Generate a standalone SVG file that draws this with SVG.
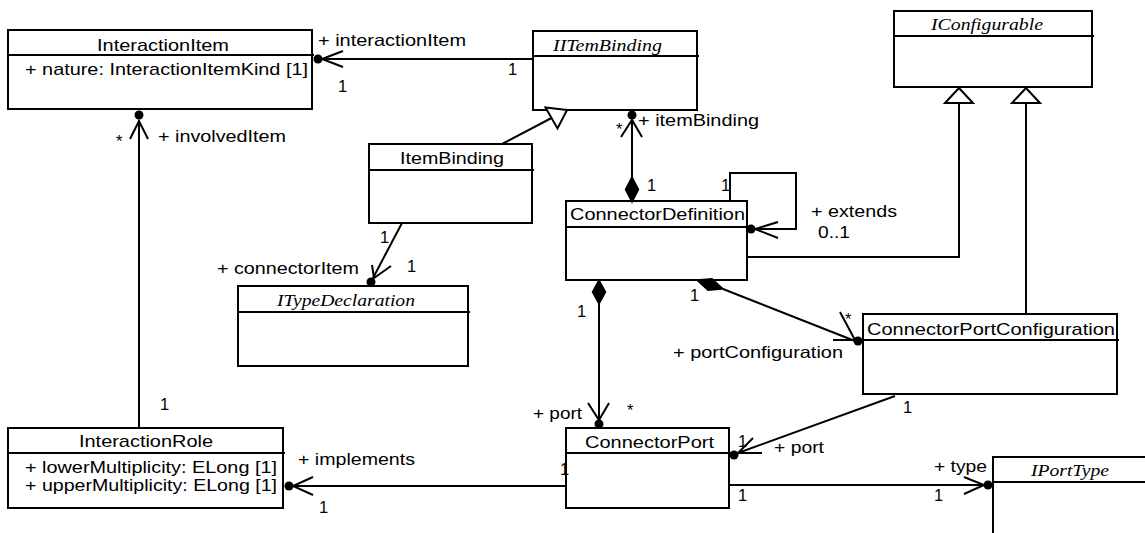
<svg xmlns="http://www.w3.org/2000/svg" width="1145" height="533" viewBox="0 0 1145 533">
<style>
.box{fill:#fff;stroke:#000;stroke-width:2}
.hd{stroke:#000;stroke-width:2}
.ln{fill:none;stroke:#000;stroke-width:2}
.dot{fill:#000}
.dia{fill:#000;stroke:#000;stroke-width:1.5}
.tri{fill:#fff;stroke:#000;stroke-width:2}
.t{font-family:"Liberation Sans",Arial,sans-serif;font-size:17px;fill:#000}
.lb{font-family:"Liberation Sans",Arial,sans-serif;font-size:16.5px;fill:#000}
.it{font-family:"Liberation Serif","Times New Roman",serif;font-style:italic;font-size:17px;fill:#000}
</style>
<rect width="1145" height="533" fill="#fff"/>

<g id="InteractionItem">
<rect class="box" x="8" y="30" width="304" height="79"/>
<line class="hd" x1="8" y1="55" x2="314" y2="55"/>
<text class="t" x="97" y="51" textLength="132" lengthAdjust="spacingAndGlyphs">InteractionItem</text>
<text class="t" x="25" y="75" textLength="283" lengthAdjust="spacingAndGlyphs">+ nature: InteractionItemKind [1]</text>
</g>

<g id="IITemBinding">
<rect class="box" x="533" y="31" width="164" height="79"/>
<line class="hd" x1="533" y1="56" x2="699" y2="56"/>
<text class="it" x="553" y="51" textLength="109" lengthAdjust="spacingAndGlyphs">IITemBinding</text>
</g>

<g id="IConfigurable">
<rect class="box" x="894" y="11" width="198" height="76"/>
<line class="hd" x1="894" y1="36" x2="1094" y2="36"/>
<text class="it" x="931" y="30" textLength="112" lengthAdjust="spacingAndGlyphs">IConfigurable</text>
</g>

<g id="ItemBinding">
<rect class="box" x="369" y="144" width="163" height="79"/>
<line class="hd" x1="369" y1="170" x2="534" y2="170"/>
<text class="t" x="400" y="164" textLength="104" lengthAdjust="spacingAndGlyphs">ItemBinding</text>
</g>

<g id="ConnectorDefinition">
<rect class="box" x="566" y="201" width="181" height="79"/>
<line class="hd" x1="566" y1="227" x2="749" y2="227"/>
<text class="t" x="570" y="220" textLength="175" lengthAdjust="spacingAndGlyphs">ConnectorDefinition</text>
</g>

<g id="ITypeDeclaration">
<rect class="box" x="238" y="286" width="230" height="80"/>
<line class="hd" x1="238" y1="312" x2="470" y2="312"/>
<text class="it" x="277" y="306" textLength="138" lengthAdjust="spacingAndGlyphs">ITypeDeclaration</text>
</g>

<g id="ConnectorPortConfiguration">
<rect class="box" x="863" y="314" width="254" height="80"/>
<line class="hd" x1="863" y1="340" x2="1119" y2="340"/>
<text class="t" x="867" y="335" textLength="248" lengthAdjust="spacingAndGlyphs">ConnectorPortConfiguration</text>
</g>

<g id="InteractionRole">
<rect class="box" x="8" y="428" width="275" height="80"/>
<line class="hd" x1="8" y1="453" x2="285" y2="453"/>
<text class="t" x="79" y="447" textLength="134" lengthAdjust="spacingAndGlyphs">InteractionRole</text>
<text class="t" x="25" y="473" textLength="252" lengthAdjust="spacingAndGlyphs">+ lowerMultiplicity: ELong [1]</text>
<text class="t" x="25" y="491" textLength="252" lengthAdjust="spacingAndGlyphs">+ upperMultiplicity: ELong [1]</text>
</g>

<g id="ConnectorPort">
<rect class="box" x="566" y="428" width="163" height="80"/>
<line class="hd" x1="566" y1="453" x2="731" y2="453"/>
<text class="t" x="585" y="448" textLength="129" lengthAdjust="spacingAndGlyphs">ConnectorPort</text>
</g>

<g id="IPortType">
<rect class="box" x="993" y="457" width="180" height="100"/>
<line class="hd" x1="993" y1="482" x2="1145" y2="482"/>
<text class="it" x="1031" y="476" textLength="78" lengthAdjust="spacingAndGlyphs">IPortType</text>
</g>

<g id="connectors">
<!-- InteractionItem - IITemBinding -->
<line class="ln" x1="322" y1="59" x2="533" y2="59"/>
<circle class="dot" cx="318" cy="59" r="4.5"/>
<polyline class="ln" points="343,51 322,59 343,67"/>
<text class="lb" x="318" y="46" textLength="148" lengthAdjust="spacingAndGlyphs">+ interactionItem</text>
<text class="lb" x="338" y="92">1</text>
<text class="lb" x="508" y="75">1</text>

<!-- InteractionItem - InteractionRole -->
<line class="ln" x1="139" y1="120" x2="139" y2="428"/>
<circle class="dot" cx="139" cy="115" r="4.5"/>
<polyline class="ln" points="130,139 139,121 148,139"/>
<text class="lb" x="116" y="147">*</text>
<text class="lb" x="158" y="142" textLength="128" lengthAdjust="spacingAndGlyphs">+ involvedItem</text>
<text class="lb" x="160" y="410">1</text>

<!-- ItemBinding generalization to IITemBinding -->
<line class="ln" x1="502" y1="144" x2="551.5" y2="118"/>
<polygon class="tri" points="567,110 545.5,107.5 557.5,128.5"/>

<!-- IITemBinding - ConnectorDefinition -->
<line class="ln" x1="632" y1="120" x2="632" y2="177"/>
<circle class="dot" cx="632" cy="115" r="4.5"/>
<polyline class="ln" points="621,137 632,120 642,137"/>
<polygon class="dia" points="632,177 638.5,189.5 632,202 625.5,189.5"/>
<text class="lb" x="616" y="135">*</text>
<text class="lb" x="638" y="126" textLength="121" lengthAdjust="spacingAndGlyphs">+ itemBinding</text>
<text class="lb" x="647" y="191">1</text>

<!-- ConnectorDefinition self association -->
<polyline class="ln" points="730,201 730,173 796,173 796,229 755,229"/>
<circle class="dot" cx="751" cy="229" r="4.5"/>
<polyline class="ln" points="778,222 755,229 778,238"/>
<text class="lb" x="721" y="191">1</text>
<text class="lb" x="811" y="217" textLength="86" lengthAdjust="spacingAndGlyphs">+ extends</text>
<text class="lb" x="818" y="238" textLength="32" lengthAdjust="spacingAndGlyphs">0..1</text>

<!-- ConnectorDefinition generalization to IConfigurable -->
<polyline class="ln" points="747,257 959,257 959,103"/>
<polygon class="tri" points="959,88 945,103 973,103"/>

<!-- ConnectorPortConfiguration generalization to IConfigurable -->
<line class="ln" x1="1026" y1="314" x2="1026" y2="103"/>
<polygon class="tri" points="1026,88 1012,103 1040,103"/>

<!-- ItemBinding - ITypeDeclaration -->
<line class="ln" x1="402" y1="223" x2="373" y2="278"/>
<circle class="dot" cx="371" cy="282" r="4.5"/>
<polyline class="ln" points="372,265 374,278 391,266"/>
<text class="lb" x="380" y="243">1</text>
<text class="lb" x="407" y="272">1</text>
<text class="lb" x="217" y="274" textLength="142" lengthAdjust="spacingAndGlyphs">+ connectorItem</text>

<!-- ConnectorDefinition - ConnectorPort -->
<polygon class="dia" points="599,280 605.5,292 599,304 592.5,292"/>
<line class="ln" x1="599" y1="304" x2="599" y2="420"/>
<circle class="dot" cx="599" cy="424" r="4.5"/>
<polyline class="ln" points="588,403 599,420 609,403"/>
<text class="lb" x="577" y="317">1</text>
<text class="lb" x="533" y="419" textLength="49" lengthAdjust="spacingAndGlyphs">+ port</text>
<text class="lb" x="627" y="416">*</text>

<!-- ConnectorDefinition - ConnectorPortConfiguration -->
<polygon class="dia" points="697,280 712,278.8 723,289 708,290.2"/>
<line class="ln" x1="723" y1="289" x2="855" y2="341"/>
<circle class="dot" cx="858" cy="341" r="4.5"/>
<polyline class="ln" points="840,312 855,340 833,340"/>
<text class="lb" x="690" y="301">1</text>
<text class="lb" x="845" y="325">*</text>
<text class="lb" x="673" y="358" textLength="170" lengthAdjust="spacingAndGlyphs">+ portConfiguration</text>

<!-- ConnectorPortConfiguration - ConnectorPort -->
<line class="ln" x1="895" y1="396" x2="738" y2="453"/>
<circle class="dot" cx="734" cy="455" r="4.5"/>
<polyline class="ln" points="753,438 738,453 762,453"/>
<text class="lb" x="903" y="413">1</text>
<text class="lb" x="738" y="447">1</text>
<text class="lb" x="774" y="453" textLength="50" lengthAdjust="spacingAndGlyphs">+ port</text>

<!-- ConnectorPort - IPortType -->
<line class="ln" x1="729" y1="485" x2="984" y2="485"/>
<circle class="dot" cx="988" cy="485" r="4.5"/>
<polyline class="ln" points="964,477 984,485 964,494"/>
<text class="lb" x="738" y="501">1</text>
<text class="lb" x="934" y="501">1</text>
<text class="lb" x="934" y="472" textLength="53" lengthAdjust="spacingAndGlyphs">+ type</text>

<!-- ConnectorPort - InteractionRole -->
<line class="ln" x1="566" y1="486" x2="293" y2="486"/>
<circle class="dot" cx="289" cy="486" r="4.5"/>
<polyline class="ln" points="313,477 293,486 313,495"/>
<text class="lb" x="560" y="475">1</text>
<text class="lb" x="298" y="465" textLength="117" lengthAdjust="spacingAndGlyphs">+ implements</text>
<text class="lb" x="319" y="513">1</text>
</g>
</svg>
